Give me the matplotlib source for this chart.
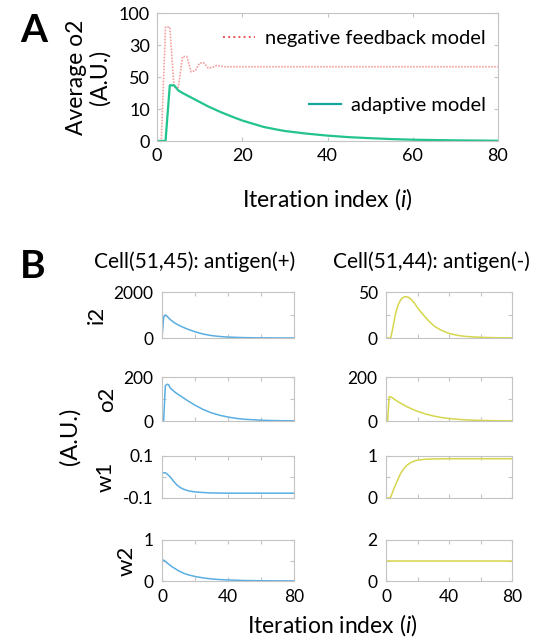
import matplotlib
matplotlib.use("Agg")
import matplotlib.pyplot as plt
from matplotlib.lines import Line2D

plt.rcParams['font.family'] = ['Lato', 'DejaVu Sans']
plt.rcParams['mathtext.fontset'] = 'custom'
plt.rcParams['mathtext.it'] = 'Lato:italic'
plt.rcParams['mathtext.rm'] = 'Lato'

# ---- panel A data (plotted on the 0-100 drawing scale of the odd axis) ----
a_yticks = [0, 25, 50, 75, 100]
a_yticklabels = ['0', '10', '50', '30', '100']

neg_x = [0, 1, 2, 3, 4, 5, 6, 7, 8, 9, 10, 11, 12, 13, 14, 15, 16, 80]
neg_y = [0, 0, 89, 89, 42, 42, 66, 66, 54, 55, 61, 61, 57, 57.5, 59, 58.5, 58, 58]

ada_x = [0, 1, 2, 3, 4, 5, 6, 8, 10, 12, 15, 18, 20, 23, 25, 28, 30, 35, 40, 45, 50,
         55, 60, 70, 80]
ada_y = [0, 0, 0, 43.5, 43.5, 39.5, 37.5, 34, 30.5, 27, 22.5, 18.5, 16, 13, 11, 9,
         7.8, 5.8, 4.2, 3, 2.2, 1.5, 1, 0.5, 0.2]

# ---- panel B data ----
titles = ['Cell(51,45): antigen(+)', 'Cell(51,44): antigen(-)']
row_names = ['i2', 'o2', 'w1', 'w2']

# antigen(+) cell
pos_i2_x = [0, 1, 2, 3, 5, 8, 10, 13, 16, 20, 25, 30, 35, 40, 50, 60, 70, 80]
pos_i2_y = [0, 900, 1000, 950, 800, 640, 560, 460, 370, 270, 170, 105, 65, 40, 15, 6, 2, 1]
pos_o2_x = [0, 1, 2, 3, 4, 5, 8, 10, 13, 16, 20, 25, 30, 35, 40, 45, 50, 60, 70, 80]
pos_o2_y = [0, 0, 160, 167, 165, 150, 130, 120, 105, 90, 72, 52, 37, 26, 18, 12, 8, 3.5, 1.5, 0.8]
pos_w1_x = [0, 1, 2, 3, 5, 7, 9, 11, 13, 16, 20, 25, 30, 40, 80]
pos_w1_y = [0.02, 0.02, 0.02, 0.015, 0, -0.02, -0.038, -0.05, -0.058, -0.066, -0.071,
            -0.074, -0.076, -0.077, -0.077]
pos_w2_x = [0, 2, 4, 6, 8, 10, 13, 16, 20, 25, 30, 35, 40, 50, 60, 70, 80]
pos_w2_y = [0.53, 0.48, 0.41, 0.35, 0.3, 0.25, 0.19, 0.15, 0.11, 0.075, 0.05, 0.035,
            0.025, 0.012, 0.006, 0.003, 0.002]

# antigen(-) cell
neg_i2_x = [0, 1, 2, 3, 4, 5, 6, 7, 8, 9, 10, 12, 14, 16, 18, 20, 22, 25, 28, 31, 35,
            40, 45, 50, 60, 70, 80]
neg_i2_y = [0, 0, 0, 0, 8, 17, 26, 32, 37, 40.5, 43, 45, 44.5, 42, 38, 33, 28.5, 22.5,
            17, 12.5, 8.5, 5, 3, 1.8, 0.7, 0.3, 0.1]
neg_o2_x = [0, 1, 2, 3, 5, 8, 10, 13, 16, 20, 25, 30, 35, 40, 45, 50, 60, 70, 80]
neg_o2_y = [0, 0, 110, 110, 100, 86, 78, 66, 56, 44, 32, 23, 16, 11, 8, 5.5, 2.5, 1.2, 0.6]
neg_w1_x = [0, 1, 2, 3, 4, 5, 6, 7, 8, 9, 10, 12, 14, 16, 18, 20, 24, 30, 40, 80]
neg_w1_y = [0, 0, 0, 0.02, 0.12, 0.22, 0.31, 0.4, 0.48, 0.56, 0.63, 0.73, 0.8, 0.85,
            0.88, 0.9, 0.92, 0.93, 0.935, 0.935]
neg_w2_x = [0, 80]
neg_w2_y = [1.0, 1.0]

series = [
    [(pos_i2_x, pos_i2_y), (pos_o2_x, pos_o2_y), (pos_w1_x, pos_w1_y), (pos_w2_x, pos_w2_y)],
    [(neg_i2_x, neg_i2_y), (neg_o2_x, neg_o2_y), (neg_w1_x, neg_w1_y), (neg_w2_x, neg_w2_y)],
]
ylims = [
    [(0, 2000), (0, 200), (-0.1, 0.1), (0, 1)],
    [(0, 50), (0, 200), (0, 1), (0, 2)],
]
ylabels = [
    [('0', '2000'), ('0', '200'), ('-0.1', '0.1'), ('0', '1')],
    [('0', '50'), ('0', '200'), ('0', '1'), ('0', '2')],
]
col_colors = ['#5aaee2', '#d6d64c']

SPINE = '#c4c4c4'
W, H = 537, 644
fig = plt.figure(figsize=(W / 100, H / 100), dpi=100)


def px_axes(x0, x1, y0, y1):
    return fig.add_axes([x0 / W, 1 - y1 / H, (x1 - x0) / W, (y1 - y0) / H])


def style_box(ax):
    for s in ax.spines.values():
        s.set_color(SPINE)
        s.set_linewidth(0.8)
    ax.tick_params(direction='in', top=True, right=True, length=3, color=SPINE,
                   labelcolor='black')


# ---------------- panel A ----------------
axA = px_axes(157, 498, 13, 141)
axA.plot(neg_x, neg_y, color='#f4a0a0', linestyle=(0, (1, 0.8)), linewidth=1.2)
axA.plot(ada_x, ada_y, color='#22c38e', linewidth=1.6)
axA.set_xlim(0, 80)
axA.set_ylim(0, 100)
axA.set_xticks([0, 20, 40, 60, 80])
axA.set_yticks(a_yticks)
axA.set_yticklabels(a_yticklabels)
style_box(axA)
axA.tick_params(labelsize=13, pad=5)
axA.set_xlabel(r'Iteration index ($\it{i}$)', fontsize=16.5, labelpad=16)
axA.set_ylabel('Average o2\n(A.U.)', fontsize=16.5, labelpad=6, linespacing=1.1)

leg1 = axA.legend([Line2D([], [], color='#ee5555', linestyle=':', linewidth=1.4)],
                  ['negative feedback model'], loc='center right',
                  bbox_to_anchor=(1.0, 0.80), frameon=False, fontsize=14.5,
                  handlelength=1.6, handletextpad=0.5, borderaxespad=0.2)
axA.add_artist(leg1)
axA.legend([Line2D([], [], color='#14a89a', linewidth=1.6)],
           ['adaptive model'], loc='center right',
           bbox_to_anchor=(1.0, 0.28), frameon=False, fontsize=14.5,
           handlelength=1.6, handletextpad=0.5, borderaxespad=0.2)

fig.text(20 / W, 1 - 30 / H, 'A', fontsize=28, fontweight='bold', va='center', ha='left')

# ---------------- panel B ----------------
fig.text(20 / W, 1 - 266 / H, 'B', fontsize=28, fontweight='bold', va='center', ha='left')

col_x = [(162, 294), (386, 512)]
row_y = [(292, 338), (377, 421), (456, 498), (540, 581)]
title_x = [195, 431]

for c in range(2):
    fig.text(title_x[c] / W, 1 - 262 / H, titles[c], fontsize=15, va='center', ha='center')
    for r in range(4):
        ax = px_axes(col_x[c][0], col_x[c][1], row_y[r][0], row_y[r][1])
        xs, ys = series[c][r]
        ax.plot(xs, ys, color=col_colors[c], linewidth=1.1)
        lo, hi = ylims[c][r]
        ax.set_xlim(0, 80)
        ax.set_ylim(lo, hi)
        ax.set_xticks([0, 20, 40, 60, 80])
        ax.set_yticks([lo, (lo + hi) / 2, hi])
        ax.set_yticklabels([ylabels[c][r][0], '', ylabels[c][r][1]])
        if r == 3:
            ax.set_xticklabels(['0', '', '40', '', '80'])
        else:
            ax.set_xticklabels([])
        style_box(ax)
        ax.tick_params(labelsize=12.5, pad=6)
        if c == 0:
            ax.set_ylabel(row_names[r], fontsize=16, labelpad=5)

fig.text(70 / W, 1 - 436 / H, '(A.U.)', fontsize=17, rotation=90, va='center', ha='center')
fig.text(332 / W, 1 - 625 / H, r'Iteration index ($\it{i}$)', fontsize=16.5,
         va='center', ha='center')

fig.savefig('out.png', dpi=100)
